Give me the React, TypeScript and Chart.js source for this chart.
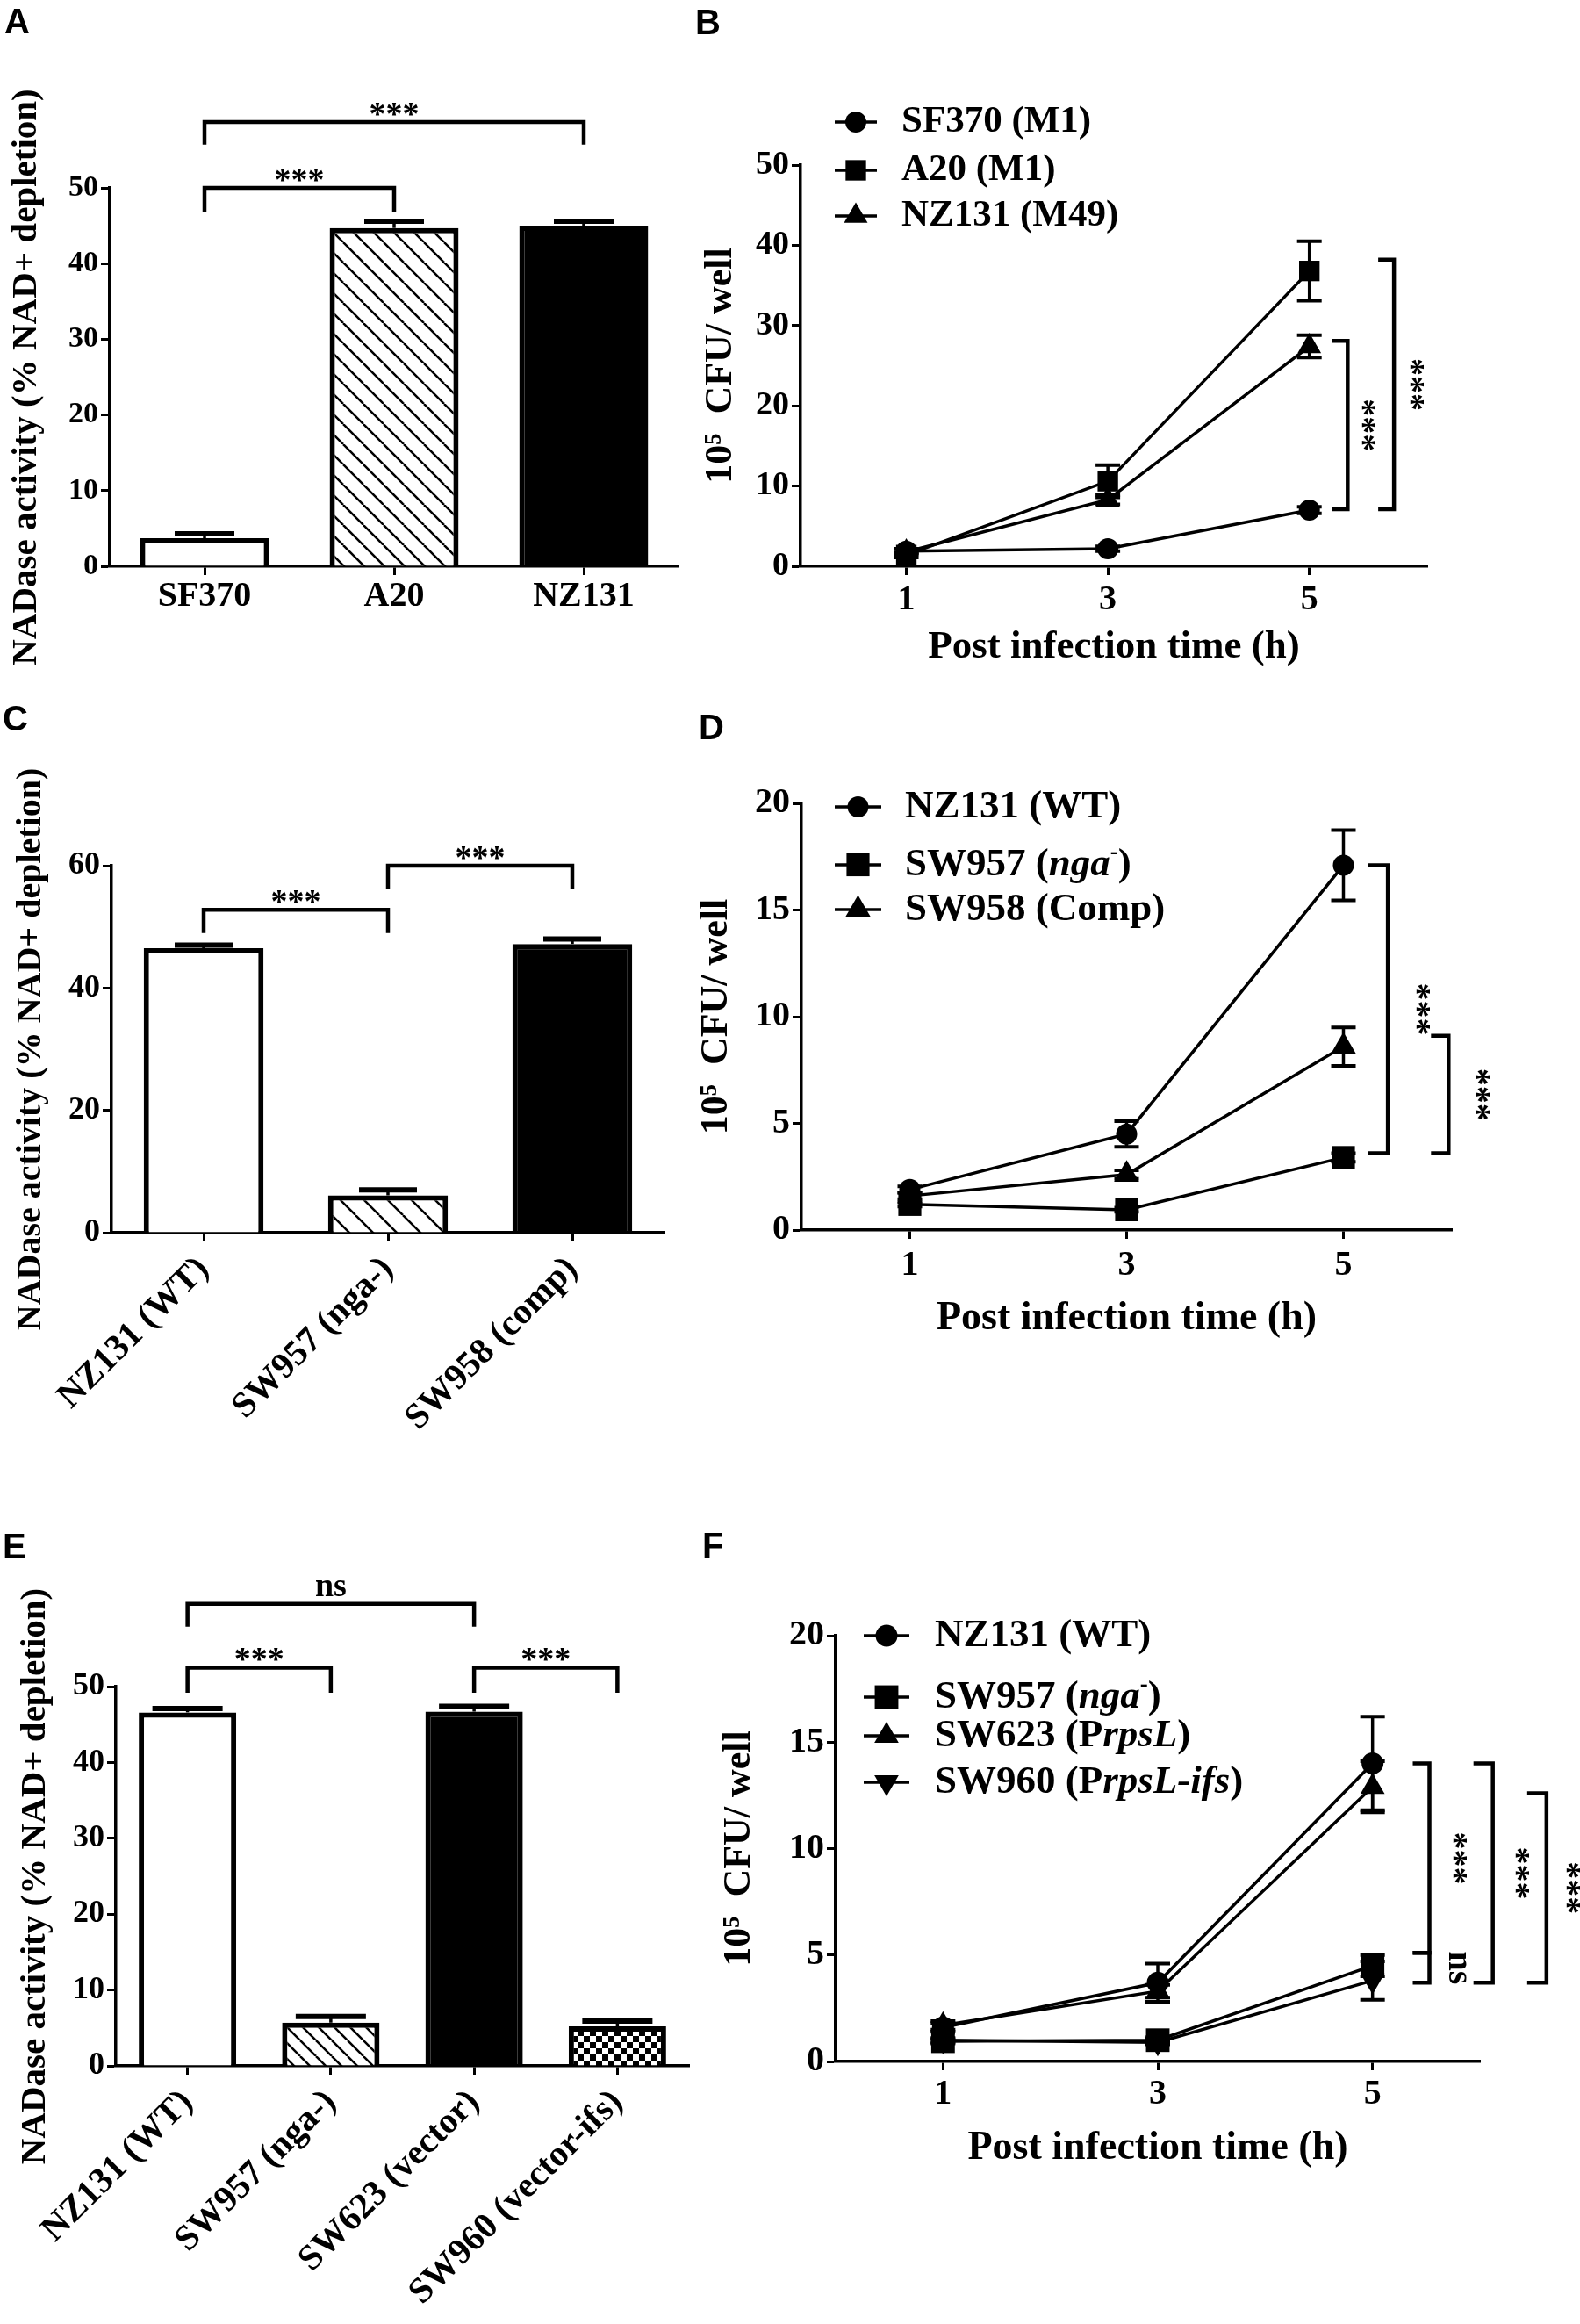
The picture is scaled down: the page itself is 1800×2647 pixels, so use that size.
import React, { useEffect, useRef } from 'react';
import { Chart, registerables } from 'chart.js';
import { drawPoint } from 'chart.js/helpers';

Chart.register(...registerables);

const SERIF = "'Liberation Serif', 'Times New Roman', serif";
const SANS = "'Liberation Sans', Arial, sans-serif";

// ---------- data ----------
// A: NADase activity
const strainsA = ['SF370', 'A20', 'NZ131'];
const nadaseA = [3.7, 44.7, 45.0];
const nadaseSemA = [0.6, 0.9, 0.6];

// C
const strainsC = ['NZ131 (WT)', 'SW957 (nga-)', 'SW958 (comp)'];
const nadaseC = [46.5, 6.1, 47.2];
const nadaseSemC = [0.5, 0.9, 0.8];

// E
const strainsE = ['NZ131 (WT)', 'SW957 (nga-)', 'SW623 (vector)', 'SW960 (vector-ifs)'];
const nadaseE = [46.6, 5.7, 46.7, 5.2];
const nadaseSemE = [0.5, 0.8, 0.7, 0.7];

// B, D, F: growth over time
const hours = [1, 3, 5];
const hourTicks = [1, 3, 5];

const cfuB_SF370 = [1.9, 2.2, 7.0];
const cfuB_A20 = [1.4, 10.6, 36.8];
const cfuB_NZ131 = [1.8, 8.3, 27.4];
const semB_SF370 = [0.3, 0.3, 0.4];
const semB_A20 = [0.3, 2.0, 3.7];
const semB_NZ131 = [0.3, 0.6, 1.4];

const cfuD_NZ131 = [1.9, 4.5, 17.1];
const cfuD_SW957 = [1.2, 0.95, 3.4];
const cfuD_SW958 = [1.6, 2.6, 8.6];
const semD_NZ131 = [0.15, 0.6, 1.65];
const semD_SW957 = [0.1, 0.1, 0.2];
const semD_SW958 = [0.15, 0.2, 0.9];

const cfuF_NZ131 = [1.6, 3.7, 14.0];
const cfuF_SW957 = [0.95, 1.0, 4.5];
const cfuF_SW623 = [1.7, 3.3, 12.9];
const cfuF_SW960 = [1.0, 0.9, 3.8];
const semF_NZ131 = [0.2, 0.9, 2.2];
const semF_SW957 = [0.1, 0.1, 0.5];
const semF_SW623 = [0.2, 0.3, 1.2];
const semF_SW960 = [0.1, 0.1, 0.9];

type Part = { t: string; i?: boolean; sup?: boolean };

const legendB: Part[][] = [[{ t: 'SF370 (M1)' }], [{ t: 'A20 (M1)' }], [{ t: 'NZ131 (M49)' }]];
const legendD: Part[][] = [
  [{ t: 'NZ131 (WT)' }],
  [{ t: 'SW957 (' }, { t: 'nga', i: true }, { t: '-', sup: true }, { t: ')' }],
  [{ t: 'SW958 (Comp)' }],
];
const legendF: Part[][] = [
  [{ t: 'NZ131 (WT)' }],
  [{ t: 'SW957 (' }, { t: 'nga', i: true }, { t: '-', sup: true }, { t: ')' }],
  [{ t: 'SW623 (P' }, { t: 'rpsL', i: true }, { t: ')' }],
  [{ t: 'SW960 (P' }, { t: 'rpsL-ifs', i: true }, { t: ')' }],
];

// ---------- helpers ----------
type Box = { left: number; top: number; width: number; height: number };
type Area = { left: number; top: number; right: number; bottom: number };
type HBracket = { from: number; to: number; y: number; leg: number; text: string };
type VBracket = { x: number; top: number; bottom: number; tick: number; text: string; dx: number };
type Legend = { from: number; to: number; textX: number; ys: number[]; font: number; labels: Part[][] };

type Overlay = {
  box: Box;
  errors: number[][];
  both: boolean;
  capHalf: number;
  capWidth: number;
  starFont: number;
  hBrackets?: HBracket[];
  vBrackets?: VBracket[];
  legend?: Legend;
};

const valueOf = (d: any) => (typeof d === 'number' ? d : d.y);

function overlayPlugin(o: Overlay) {
  return {
    id: 'overlay',
    afterDatasetsDraw(chart: any) {
      const ctx: CanvasRenderingContext2D = chart.ctx;
      const ys = chart.scales.y;
      ctx.save();
      ctx.strokeStyle = '#000';
      o.errors.forEach((errs, di) => {
        const ds = chart.data.datasets[di];
        chart.getDatasetMeta(di).data.forEach((el: any, i: number) => {
          const v = valueOf(ds.data[i]);
          const e = errs[i];
          const top = ys.getPixelForValue(v + e);
          const bot = o.both ? ys.getPixelForValue(v - e) : el.y;
          ctx.lineWidth = 3.5;
          ctx.beginPath();
          ctx.moveTo(el.x, top);
          ctx.lineTo(el.x, bot);
          ctx.stroke();
          ctx.lineWidth = o.capWidth;
          ctx.beginPath();
          ctx.moveTo(el.x - o.capHalf, top);
          ctx.lineTo(el.x + o.capHalf, top);
          if (o.both) {
            ctx.moveTo(el.x - o.capHalf, bot);
            ctx.lineTo(el.x + o.capHalf, bot);
          }
          ctx.stroke();
        });
      });
      ctx.restore();
    },
    afterDraw(chart: any) {
      const ctx: CanvasRenderingContext2D = chart.ctx;
      const xs = chart.scales.x;
      const ys = chart.scales.y;
      ctx.save();
      ctx.strokeStyle = '#000';
      ctx.fillStyle = '#000';
      ctx.lineWidth = 4.5;
      ctx.lineJoin = 'miter';
      ctx.font = `bold ${o.starFont}px ${SERIF}`;

      (o.hBrackets || []).forEach((b) => {
        const x1 = xs.getPixelForValue(b.from);
        const x2 = xs.getPixelForValue(b.to);
        const yt = ys.getPixelForValue(b.y);
        const yl = ys.getPixelForValue(b.leg);
        ctx.beginPath();
        ctx.moveTo(x1, yl);
        ctx.lineTo(x1, yt);
        ctx.lineTo(x2, yt);
        ctx.lineTo(x2, yl);
        ctx.stroke();
        ctx.textAlign = 'center';
        ctx.textBaseline = 'alphabetic';
        ctx.fillText(b.text, (x1 + x2) / 2, b.text === 'ns' ? yt - 9 : yt + 3);
      });

      (o.vBrackets || []).forEach((b) => {
        const px = xs.getPixelForValue(b.x);
        const yt = ys.getPixelForValue(b.top);
        const yb = ys.getPixelForValue(b.bottom);
        ctx.beginPath();
        ctx.moveTo(px - b.tick, yt);
        ctx.lineTo(px, yt);
        ctx.lineTo(px, yb);
        ctx.lineTo(px - b.tick, yb);
        ctx.stroke();
        ctx.save();
        ctx.translate(px + b.dx, (yt + yb) / 2);
        ctx.rotate(Math.PI / 2);
        ctx.textAlign = 'center';
        ctx.textBaseline = 'middle';
        ctx.fillText(b.text, 0, 0);
        ctx.restore();
      });

      const L = o.legend;
      if (L) {
        L.ys.forEach((yy, i) => {
          const ds: any = chart.data.datasets[i];
          const y = yy - o.box.top;
          const x1 = L.from - o.box.left;
          const x2 = L.to - o.box.left;
          ctx.lineWidth = 3.5;
          ctx.beginPath();
          ctx.moveTo(x1, y);
          ctx.lineTo(x2, y);
          ctx.stroke();
          drawPoint(ctx, { pointStyle: ds.pointStyle, radius: ds.pointRadius, rotation: ds.pointRotation || 0, borderWidth: 0 } as any, (x1 + x2) / 2, y);
          let tx = L.textX - o.box.left;
          ctx.textAlign = 'left';
          ctx.textBaseline = 'middle';
          L.labels[i].forEach((p) => {
            const fs = p.sup ? L.font * 0.6 : L.font;
            ctx.font = `${p.i ? 'italic ' : ''}bold ${fs}px ${SERIF}`;
            ctx.fillText(p.t, tx, p.sup ? y - L.font * 0.3 : y);
            tx += ctx.measureText(p.t).width;
          });
        });
      }
      ctx.restore();
    },
  };
}

function hatch(s: number, w: number) {
  const c = document.createElement('canvas');
  c.width = s;
  c.height = s;
  const g = c.getContext('2d')!;
  g.fillStyle = '#fff';
  g.fillRect(0, 0, s, s);
  g.strokeStyle = '#000';
  g.lineWidth = w;
  for (const k of [-1, 0, 1]) {
    g.beginPath();
    g.moveTo(k * s, 0);
    g.lineTo(k * s + s, s);
    g.stroke();
  }
  return g.createPattern(c, 'repeat');
}

function checker(cell: number) {
  const c = document.createElement('canvas');
  c.width = cell * 2;
  c.height = cell * 2;
  const g = c.getContext('2d')!;
  g.fillStyle = '#fff';
  g.fillRect(0, 0, cell * 2, cell * 2);
  g.fillStyle = '#000';
  g.fillRect(0, 0, cell, cell);
  g.fillRect(cell, cell, cell, cell);
  return g.createPattern(c, 'repeat');
}

const font = (size: number) => ({ family: SERIF, size, weight: 'bold' as const });

const axisLines = (tickLength: number) => ({
  grid: { display: true, drawOnChartArea: false, drawTicks: true, tickLength, tickWidth: 3, tickColor: '#000', offset: false },
  border: { display: true, color: '#000', width: 3.5 },
});

function frame(box: Box, area: Area) {
  return {
    padding: { left: 0, top: area.top - box.top, right: box.left + box.width - area.right, bottom: 0 },
    yW: area.left - box.left,
    xH: box.top + box.height - area.bottom,
  };
}

type BarSpec = {
  box: Box;
  area: Area;
  labels: string[];
  values: number[];
  sem: number[];
  fills: string[];
  hatchStep: number;
  barPct: number;
  yMax: number;
  yStep: number;
  tickFont: number;
  catFont: number;
  rotation: number;
  catPad: number;
  yTitle: string;
  yTitleFont: number;
  yTitleX: number;
  capHalf: number;
  starFont: number;
  brackets: HBracket[];
};

function barConfig(s: BarSpec): any {
  const f = frame(s.box, s.area);
  const fills = s.fills.map((k) =>
    k === 'hatch' ? hatch(s.hatchStep, 2.5) : k === 'check' ? checker(7) : k === 'black' ? '#000' : '#fff'
  );
  return {
    type: 'bar',
    data: {
      labels: s.labels,
      datasets: [
        {
          data: s.values,
          backgroundColor: fills,
          borderColor: '#000',
          borderWidth: 6,
          barPercentage: s.barPct,
          categoryPercentage: 1,
        },
      ],
    },
    options: {
      animation: false,
      responsive: true,
      maintainAspectRatio: false,
      devicePixelRatio: 1,
      events: [],
      layout: { padding: f.padding },
      plugins: { legend: { display: false }, tooltip: { enabled: false } },
      scales: {
        x: {
          type: 'category',
          offset: true,
          ...axisLines(10),
          ticks: {
            color: '#000',
            font: font(s.catFont),
            autoSkip: false,
            minRotation: s.rotation,
            maxRotation: s.rotation,
            padding: s.catPad,
          },
          afterFit: (sc: any) => {
            sc.height = f.xH;
          },
        },
        y: {
          min: 0,
          max: s.yMax,
          ...axisLines(10),
          ticks: { stepSize: s.yStep, color: '#000', font: font(s.tickFont), padding: 3 },
          title: {
            display: true,
            text: s.yTitle,
            color: '#000',
            font: font(s.yTitleFont),
            padding: { top: s.yTitleX - s.box.left - s.yTitleFont * 0.6, bottom: 0 },
          },
          afterFit: (sc: any) => {
            sc.width = f.yW;
          },
        },
      },
    },
    plugins: [
      overlayPlugin({
        box: s.box,
        errors: [s.sem],
        both: false,
        capHalf: s.capHalf,
        capWidth: 6,
        starFont: s.starFont,
        hBrackets: s.brackets,
      }),
    ],
  };
}

type Series = { values: number[]; sem: number[]; style: string; radius: number; rotation?: number };

type LineSpec = {
  box: Box;
  area: Area;
  xMin: number;
  xMax: number;
  yMax: number;
  yStep: number;
  tickFont: number;
  xTickFont: number;
  xTickY: number;
  yTitle: string;
  yTitleFont: number;
  yTitleX: number;
  xTitle: string;
  xTitleFont: number;
  xTitleY: number;
  series: Series[];
  legend: Legend;
  starFont: number;
  brackets: VBracket[];
};

function lineConfig(s: LineSpec): any {
  const f = frame(s.box, s.area);
  return {
    type: 'line',
    data: {
      datasets: s.series.map((se) => ({
        data: hours.map((h, i) => ({ x: h, y: se.values[i] })),
        borderColor: '#000',
        backgroundColor: '#000',
        borderWidth: 3.5,
        tension: 0,
        clip: false,
        pointStyle: se.style,
        pointRadius: se.radius,
        pointRotation: se.rotation || 0,
        pointBackgroundColor: '#000',
        pointBorderColor: '#000',
        pointBorderWidth: 0,
      })),
    },
    options: {
      animation: false,
      responsive: true,
      maintainAspectRatio: false,
      devicePixelRatio: 1,
      events: [],
      layout: { padding: f.padding },
      plugins: { legend: { display: false }, tooltip: { enabled: false } },
      scales: {
        x: {
          type: 'linear',
          min: s.xMin,
          max: s.xMax,
          ...axisLines(10),
          afterBuildTicks: (sc: any) => {
            sc.ticks = hourTicks.map((v) => ({ value: v }));
          },
          ticks: {
            color: '#000',
            font: font(s.xTickFont),
            padding: s.xTickY - s.area.bottom - 10 - s.xTickFont * 0.6,
            callback: (v: any) => String(v),
          },
          title: {
            display: true,
            text: s.xTitle,
            color: '#000',
            font: font(s.xTitleFont),
            padding: { top: 0, bottom: s.box.top + s.box.height - s.xTitleY - s.xTitleFont * 0.6 },
          },
          afterFit: (sc: any) => {
            sc.height = f.xH;
          },
        },
        y: {
          min: 0,
          max: s.yMax,
          ...axisLines(10),
          ticks: { stepSize: s.yStep, color: '#000', font: font(s.tickFont), padding: 3 },
          title: {
            display: true,
            text: s.yTitle,
            color: '#000',
            font: font(s.yTitleFont),
            padding: { top: Math.max(0, s.yTitleX - s.box.left - s.yTitleFont * 0.6), bottom: 0 },
          },
          afterFit: (sc: any) => {
            sc.width = f.yW;
          },
        },
      },
    },
    plugins: [
      overlayPlugin({
        box: s.box,
        errors: s.series.map((se) => se.sem),
        both: true,
        capHalf: 14,
        capWidth: 4,
        starFont: s.starFont,
        vBrackets: s.brackets,
        legend: s.legend,
      }),
    ],
  };
}

// ---------- panels ----------
const NAD_TITLE = 'NADase activity (% NAD+ depletion)';
const CFU_TITLE = '10\u2075  CFU/ well';
const TIME_TITLE = 'Post infection time (h)';

const specA: BarSpec = {
  box: { left: 0, top: 0, width: 790, height: 790 },
  area: { left: 125, top: 214, right: 773, bottom: 645 },
  labels: strainsA,
  values: nadaseA,
  sem: nadaseSemA,
  fills: ['white', 'hatch', 'black'],
  hatchStep: 23,
  barPct: 0.68,
  yMax: 50,
  yStep: 10,
  tickFont: 34,
  catFont: 40,
  rotation: 0,
  catPad: 1,
  yTitle: NAD_TITLE,
  yTitleFont: 41,
  yTitleX: 30,
  capHalf: 34,
  starFont: 38,
  brackets: [
    { from: 0, to: 1, y: 50, leg: 46.75, text: '***' },
    { from: 0, to: 2, y: 58.7, leg: 55.7, text: '***' },
  ],
};

const specC: BarSpec = {
  box: { left: 0, top: 790, width: 790, height: 850 },
  area: { left: 127, top: 986, right: 757, bottom: 1404 },
  labels: strainsC,
  values: nadaseC,
  sem: nadaseSemC,
  fills: ['white', 'hatch', 'black'],
  hatchStep: 27,
  barPct: 0.65,
  yMax: 60,
  yStep: 20,
  tickFont: 36,
  catFont: 41,
  rotation: 45,
  catPad: 8,
  yTitle: NAD_TITLE,
  yTitleFont: 40,
  yTitleX: 36,
  capHalf: 33,
  starFont: 38,
  brackets: [
    { from: 0, to: 1, y: 52.8, leg: 49.0, text: '***' },
    { from: 1, to: 2, y: 60, leg: 56.2, text: '***' },
  ],
};

const specE: BarSpec = {
  box: { left: 0, top: 1640, width: 800, height: 1007 },
  area: { left: 132, top: 1921, right: 785, bottom: 2353 },
  labels: strainsE,
  values: nadaseE,
  sem: nadaseSemE,
  fills: ['white', 'hatch', 'black', 'check'],
  hatchStep: 18,
  barPct: 0.68,
  yMax: 50,
  yStep: 10,
  tickFont: 36,
  catFont: 41,
  rotation: 45,
  catPad: 8,
  yTitle: NAD_TITLE,
  yTitleFont: 41,
  yTitleX: 40,
  capHalf: 40,
  starFont: 38,
  brackets: [
    { from: 0, to: 2, y: 60.9, leg: 57.9, text: 'ns' },
    { from: 0, to: 1, y: 52.5, leg: 49.2, text: '***' },
    { from: 2, to: 3, y: 52.5, leg: 49.2, text: '***' },
  ],
};

const specB: LineSpec = {
  box: { left: 790, top: 0, width: 1010, height: 790 },
  area: { left: 912, top: 188, right: 1626, bottom: 645 },
  xMin: -0.05,
  xMax: 6.17,
  yMax: 50,
  yStep: 10,
  tickFont: 38,
  xTickFont: 40,
  xTickY: 684,
  yTitle: CFU_TITLE,
  yTitleFont: 44,
  yTitleX: 822,
  xTitle: TIME_TITLE,
  xTitleFont: 45,
  xTitleY: 737,
  series: [
    { values: cfuB_SF370, sem: semB_SF370, style: 'circle', radius: 12 },
    { values: cfuB_A20, sem: semB_A20, style: 'rect', radius: 16.5 },
    { values: cfuB_NZ131, sem: semB_NZ131, style: 'triangle', radius: 15.5 },
  ],
  legend: { from: 951, to: 999, textX: 1027, ys: [139, 194, 246], font: 43, labels: legendB },
  starFont: 40,
  brackets: [
    { x: 5.38, top: 28.1, bottom: 7.1, tick: 18, text: '***', dx: 16 },
    { x: 5.84, top: 38.2, bottom: 7.1, tick: 18, text: '***', dx: 18 },
  ],
};

const specD: LineSpec = {
  box: { left: 790, top: 790, width: 1010, height: 850 },
  area: { left: 913, top: 915, right: 1654, bottom: 1401 },
  xMin: 0,
  xMax: 6,
  yMax: 20,
  yStep: 5,
  tickFont: 40,
  xTickFont: 40,
  xTickY: 1442,
  yTitle: CFU_TITLE,
  yTitleFont: 44,
  yTitleX: 816,
  xTitle: TIME_TITLE,
  xTitleFont: 46,
  xTitleY: 1502,
  series: [
    { values: cfuD_NZ131, sem: semD_NZ131, style: 'circle', radius: 12 },
    { values: cfuD_SW957, sem: semD_SW957, style: 'rect', radius: 18.5 },
    { values: cfuD_SW958, sem: semD_SW958, style: 'triangle', radius: 16.5 },
  ],
  legend: { from: 951, to: 1004, textX: 1031, ys: [919, 985, 1036], font: 45, labels: legendD },
  starFont: 40,
  brackets: [
    { x: 5.41, top: 17.1, bottom: 3.6, tick: 23, text: '***', dx: 32 },
    { x: 5.97, top: 9.1, bottom: 3.6, tick: 20, text: '***', dx: 31 },
  ],
};

const specF: LineSpec = {
  box: { left: 800, top: 1640, width: 1000, height: 1007 },
  area: { left: 952, top: 1863, right: 1686, bottom: 2348 },
  xMin: 0,
  xMax: 6,
  yMax: 20,
  yStep: 5,
  tickFont: 40,
  xTickFont: 40,
  xTickY: 2386,
  yTitle: CFU_TITLE,
  yTitleFont: 44,
  yTitleX: 843,
  xTitle: TIME_TITLE,
  xTitleFont: 46,
  xTitleY: 2447,
  series: [
    { values: cfuF_NZ131, sem: semF_NZ131, style: 'circle', radius: 12.5 },
    { values: cfuF_SW957, sem: semF_SW957, style: 'rect', radius: 19 },
    { values: cfuF_SW623, sem: semF_SW623, style: 'triangle', radius: 16 },
    { values: cfuF_SW960, sem: semF_SW960, style: 'triangle', radius: 16, rotation: 180 },
  ],
  legend: { from: 984, to: 1036, textX: 1065, ys: [1863, 1933, 1977, 2030], font: 45, labels: legendF },
  starFont: 40,
  brackets: [
    { x: 5.53, top: 14.0, bottom: 5.1, tick: 19, text: '***', dx: 27 },
    { x: 5.53, top: 5.1, bottom: 3.7, tick: 19, text: 'ns', dx: 33 },
    { x: 6.12, top: 14.0, bottom: 3.7, tick: 22, text: '***', dx: 26 },
    { x: 6.62, top: 12.6, bottom: 3.7, tick: 22, text: '***', dx: 22 },
  ],
};

const panelLetters = [
  { t: 'A', left: 5, top: 4 },
  { t: 'B', left: 792, top: 5 },
  { t: 'C', left: 3, top: 798 },
  { t: 'D', left: 796, top: 808 },
  { t: 'E', left: 3, top: 1741 },
  { t: 'F', left: 800, top: 1740 },
];

const Panel: React.FC<{ box: Box; make: () => any }> = ({ box, make }) => {
  const canvas = useRef<HTMLCanvasElement>(null!);
  useEffect(() => {
    const chart = new Chart(canvas.current, make());
    return () => {
      chart.destroy();
    };
  }, []);
  return (
    <div style={{ position: 'absolute', left: box.left, top: box.top, width: box.width, height: box.height }}>
      <canvas ref={canvas}></canvas>
    </div>
  );
};

export default function App() {
  return (
    <div style={{ position: 'absolute', left: 0, top: 0, width: 1800, height: 2647, background: '#fff', overflow: 'hidden' }}>
      <Panel box={specA.box} make={() => barConfig(specA)} />
      <Panel box={specB.box} make={() => lineConfig(specB)} />
      <Panel box={specC.box} make={() => barConfig(specC)} />
      <Panel box={specD.box} make={() => lineConfig(specD)} />
      <Panel box={specE.box} make={() => barConfig(specE)} />
      <Panel box={specF.box} make={() => lineConfig(specF)} />
      {panelLetters.map((p) => (
        <div
          key={p.t}
          style={{ position: 'absolute', left: p.left, top: p.top, font: `bold 40px ${SANS}`, lineHeight: 1, color: '#000' }}
        >
          {p.t}
        </div>
      ))}
    </div>
  );
}
